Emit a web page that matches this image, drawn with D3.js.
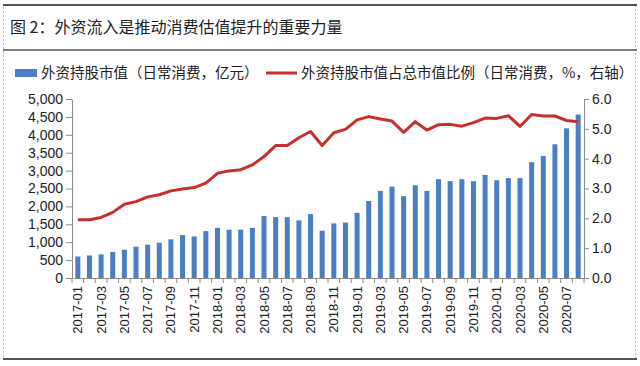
<!DOCTYPE html>
<html><head><meta charset="utf-8">
<script src="https://cdn.jsdelivr.net/npm/d3@7"></script>
<style>
html,body{margin:0;padding:0;background:#fff;}
svg{display:block;font-family:"Noto Sans CJK SC","Noto Sans",sans-serif;}
</style></head>
<body><svg id="c" width="640" height="366"></svg>
<script>
const months = [
 "2017-01","2017-02","2017-03","2017-04","2017-05","2017-06","2017-07","2017-08","2017-09","2017-10","2017-11","2017-12",
 "2018-01","2018-02","2018-03","2018-04","2018-05","2018-06","2018-07","2018-08","2018-09","2018-10","2018-11","2018-12",
 "2019-01","2019-02","2019-03","2019-04","2019-05","2019-06","2019-07","2019-08","2019-09","2019-10","2019-11","2019-12",
 "2020-01","2020-02","2020-03","2020-04","2020-05","2020-06","2020-07","2020-08"];
const holdingValue = [
 600,630,660,725,790,875,930,985,1080,1200,1160,1310,
 1400,1350,1350,1400,1730,1700,1700,1610,1785,1320,1525,1550,
 1820,2150,2435,2555,2285,2590,2435,2760,2705,2760,2705,2880,
 2730,2790,2790,3235,3410,3735,4180,4565];
const holdingShare = [
 1.95,1.95,2.03,2.20,2.47,2.56,2.72,2.79,2.92,2.98,3.03,3.18,
 3.51,3.59,3.63,3.79,4.07,4.44,4.44,4.70,4.91,4.44,4.87,4.98,
 5.30,5.41,5.33,5.26,4.88,5.24,4.96,5.14,5.15,5.09,5.21,5.36,
 5.35,5.44,5.08,5.48,5.43,5.43,5.28,5.24];
const leftTicks = [0,500,1000,1500,2000,2500,3000,3500,4000,4500,5000];
const rightTicks = [0,1,2,3,4,5,6];
const title = "图 2：外资流入是推动消费估值提升的重要力量";
const legendBar = "外资持股市值（日常消费，亿元）";
const legendLine = "外资持股市值占总市值比例（日常消费，%，右轴）";

const svg = d3.select("#c");
const blue = "#4a7ec6", red = "#c82f2c", axisCol = "#8c8c8c";
const L = 72, R = 584, T = 99, B = 278;

// frame
svg.append("rect").attr("x",3.5).attr("y",5).attr("width",632).attr("height",354)
  .attr("fill","none").attr("stroke","#bdbdbd").attr("stroke-dasharray","2,2");
svg.append("line").attr("x1",3).attr("x2",637).attr("y1",5).attr("y2",5).attr("stroke","#555").attr("stroke-width",2);
svg.append("line").attr("x1",3).attr("x2",637).attr("y1",50).attr("y2",50).attr("stroke","#555").attr("stroke-width",1.5);
svg.append("line").attr("x1",3).attr("x2",637).attr("y1",359).attr("y2",359).attr("stroke","#555").attr("stroke-width",2);
svg.append("text").attr("x",10).attr("y",33).attr("font-size",16).attr("fill","#222").text(title);

// legend
svg.append("rect").attr("x",15).attr("y",69).attr("width",22).attr("height",8).attr("fill",blue);
svg.append("text").attr("x",41).attr("y",78).attr("font-size",14.5).attr("fill","#222").text(legendBar);
svg.append("line").attr("x1",266).attr("x2",297).attr("y1",73).attr("y2",73).attr("stroke",red).attr("stroke-width",3);
svg.append("text").attr("x",301).attr("y",78).attr("font-size",14.5).attr("fill","#222").text(legendLine);

const x = d3.scaleBand().domain(months).range([L,R]).paddingInner(0.57).paddingOuter(0.285);
const yL = d3.scaleLinear().domain([0,5000]).range([B,T]);
const yR = d3.scaleLinear().domain([0,6]).range([B,T]);

// bars
svg.append("g").selectAll("rect").data(months).join("rect")
  .attr("x",d=>x(d)).attr("width",x.bandwidth())
  .attr("y",(d,i)=>yL(holdingValue[i])).attr("height",(d,i)=>B-yL(holdingValue[i]))
  .attr("fill",blue);

// line
const line = d3.line().x((d,i)=>x(months[i])+x.bandwidth()/2).y(d=>yR(d));
svg.append("path").datum(holdingShare).attr("d",line).attr("fill","none")
  .attr("stroke",red).attr("stroke-width",3).attr("stroke-linejoin","round");

// axes
const gl = svg.append("g").attr("transform",`translate(${L},0)`)
  .call(d3.axisLeft(yL).tickValues(leftTicks).tickFormat(d3.format(",")).tickSize(6).tickSizeOuter(0).tickPadding(3));
const gr = svg.append("g").attr("transform",`translate(${R},0)`)
  .call(d3.axisRight(yR).tickValues(rightTicks).tickFormat(d3.format(".1f")).tickSize(5).tickSizeOuter(0).tickPadding(3));
[gl,gr].forEach(g=>{
  g.select(".domain").attr("stroke",axisCol);
  g.selectAll(".tick line").attr("stroke",axisCol);
  g.selectAll(".tick text").attr("font-size",14).attr("fill","#222");
});

const gx = svg.append("g").attr("transform",`translate(0,${B})`)
  .call(d3.axisBottom(x).tickValues(months.filter((d,i)=>i%2===0)).tickSize(0).tickPadding(0).tickSizeOuter(0));
gx.select(".domain").attr("stroke",axisCol);
gx.selectAll(".tick text").attr("font-size",13).attr("fill","#222")
  .attr("transform","rotate(-90)").attr("text-anchor","end").attr("dx","-8").attr("dy","0.35em").attr("x",0).attr("y",0);
// boundary ticks
const step = x.step();
const bounds = months.map(d=>x(d)-(step-x.bandwidth())/2).concat([R]);
gx.append("g").selectAll("line").data(bounds).join("line")
  .attr("x1",d=>d).attr("x2",d=>d).attr("y1",0).attr("y2",5).attr("stroke",axisCol);
</script></body></html>
